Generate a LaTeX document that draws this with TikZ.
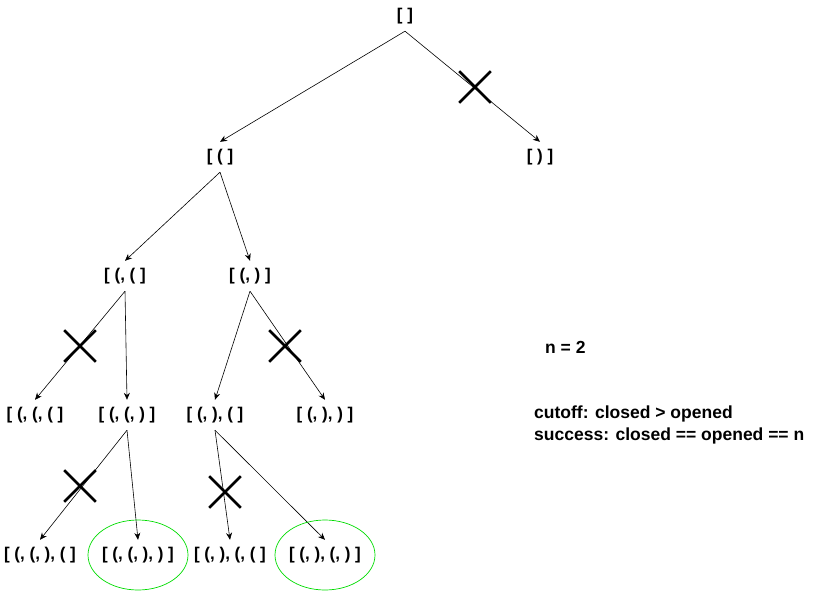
\documentclass[tikz,border=0pt]{standalone}
\usepackage{fontspec}
\setmainfont{Liberation Sans}
\usetikzlibrary{arrows.meta,shapes.misc}
\begin{document}
\begin{tikzpicture}[x=1pt,y=-1pt,
  state/.style={inner sep=0pt,minimum height=30pt,font=\fontsize{17}{20}\selectfont\bfseries},
  edge/.style={-{Stealth[length=7pt,width=6pt]},line width=0.6pt},
  xmark/.style={cross out,draw,line width=2.6pt,minimum size=29pt,inner sep=0pt},
  success/.style={draw={rgb,255:red,0;green,220;blue,0},line width=0.7pt},
  note/.style={anchor=west,inner sep=0pt,font=\fontsize{17.5}{20}\selectfont\bfseries}]
\useasboundingbox (0,0) rectangle (821,591);

% tree of partial bracket sequences
\node[state] (r)    at (405,16)  {[ ]};
\node[state] (o)    at (220,157) {[ ( ]};
\node[state] (c)    at (540,157) {[ ) ]};
\node[state] (oo)   at (125,276) {[ (, ( ]};
\node[state] (oc)   at (250,276) {[ (, ) ]};
\node[state] (ooo)  at (35,415)  {[ (, (, ( ]};
\node[state] (ooc)  at (127,415) {[ (, (, ) ]};
\node[state] (oco)  at (215,415) {[ (, ), ( ]};
\node[state] (occ)  at (325,415) {[ (, ), ) ]};
\node[state] (ooco) at (40,555)  {[ (, (, ), ( ]};
\node[state] (oocc) at (138,555) {[ (, (, ), ) ]};
\node[state] (ocoo) at (230,555) {[ (, ), (, ( ]};
\node[state] (ococ) at (325,555) {[ (, ), (, ) ]};

% branches
\draw[edge] (r.south)   -- (o.north);
\draw[edge] (r.south)   -- (c.north);
\draw[edge] (o.south)   -- (oo.north);
\draw[edge] (o.south)   -- (oc.north);
\draw[edge] (oo.south)  -- (ooo.north);
\draw[edge] (oo.south)  -- (ooc.north);
\draw[edge] (oc.south)  -- (oco.north);
\draw[edge] (oc.south)  -- (occ.north);
\draw[edge] (ooc.south) -- (ooco.north);
\draw[edge] (ooc.south) -- (oocc.north);
\draw[edge] (oco.south) -- (ocoo.north);
\draw[edge] (oco.south) -- (ococ.north);

% pruned branches
\node[xmark] (x1) at (475,87)  {};
\node[xmark] (x2) at (80,346)  {};
\node[xmark] (x3) at (285,346) {};
\node[xmark] (x4) at (80,486)  {};
\node[xmark] (x5) at (225,492) {};

% complete sequences
\draw[success] (oocc.center) ellipse (50 and 35);
\draw[success] (ococ.center) ellipse (50 and 35);

% legend
\node[note] (n)   at (545,347) {n = 2};
\node[note] (cut) at (534,414) {cutoff: closed > opened};
\node[note] (suc) at (534,436) {success: closed == opened == n};
\end{tikzpicture}
\end{document}
